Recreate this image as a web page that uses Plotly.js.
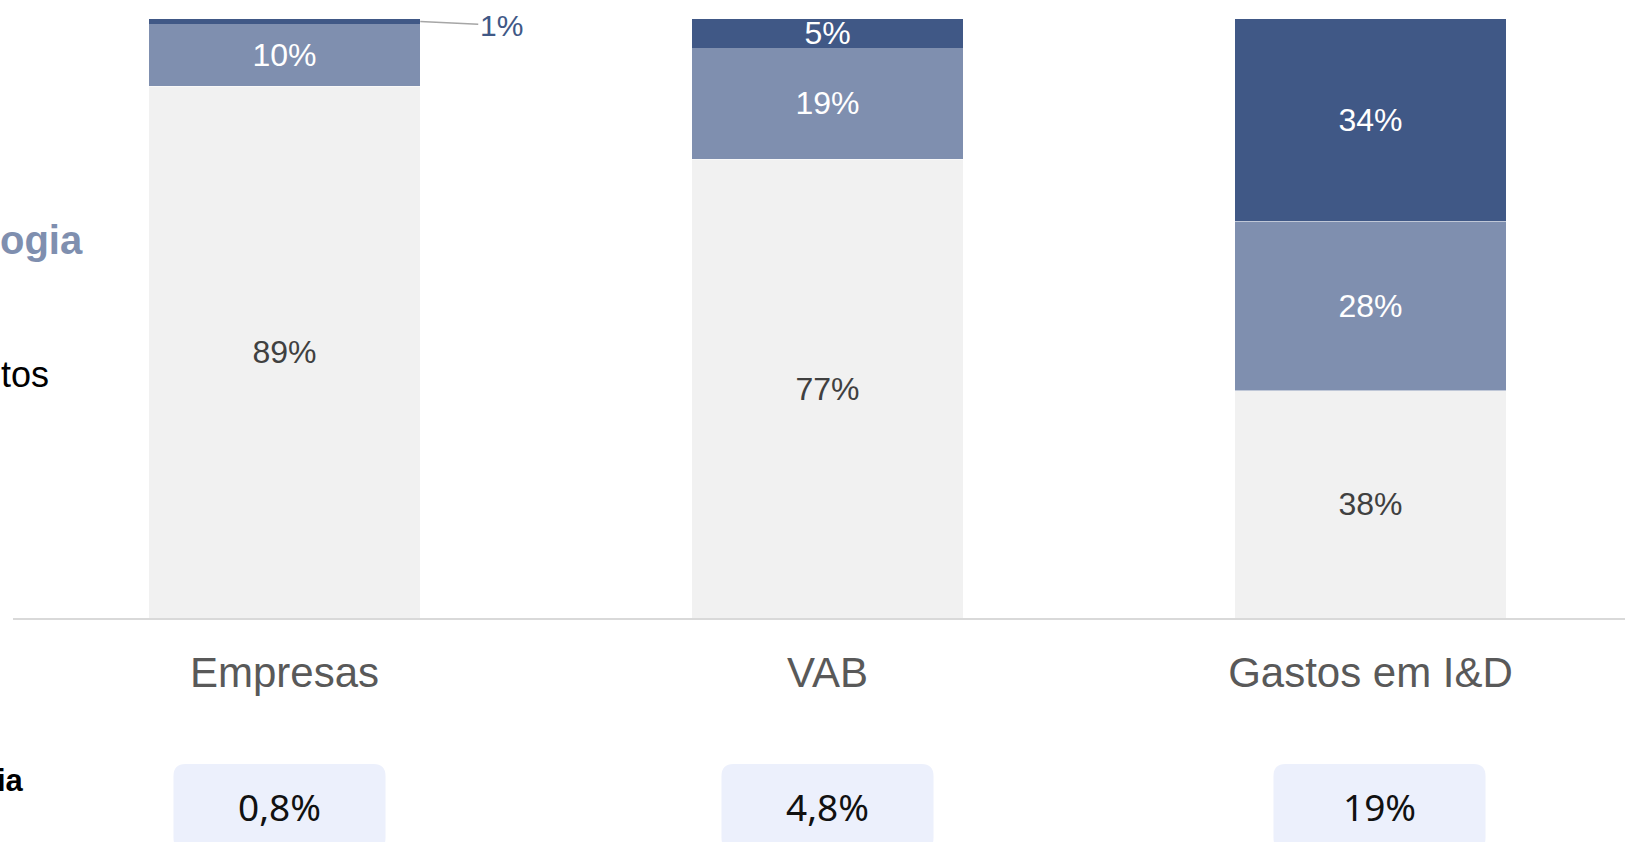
<!DOCTYPE html>
<html>
<head>
<meta charset="utf-8">
<script src="https://cdn.plot.ly/plotly-3.0.1.min.js"></script>
<style>
  html, body { margin: 0; padding: 0; background: #ffffff; overflow: hidden; }
  #chart { width: 1625px; height: 842px; }
</style>
</head>
<body>
<div id="chart"></div>
<script>
// ---- data (shares in %) ----
const categories = ['Empresas', 'VAB', 'Gastos em I&D'];
const lowTech = [88.8, 76.6, 37.9];
const midTech = [10.4, 18.6, 28.3];
const highTech = [0.8, 4.8, 33.8];
const intensity = ['0,8%', '4,8%', '19%'];
const sideLabels = ['ogia', 'tos', 'ia'];

const cLow = '#F1F1F1', cMid = '#7F8FAF', cHigh = '#405886';
const ARIAL = 'Liberation Sans, Arial, sans-serif';
const NOTO = 'Noto Sans, Liberation Sans, sans-serif';

const pct = v => Math.round(v) + '%';

const traces = [
  {
    type: 'bar', name: 'low', x: categories, y: lowTech,
    text: lowTech.map(pct), textposition: 'inside', insidetextanchor: 'middle',
    constraintext: 'none',
    textfont: { family: ARIAL, size: 32, color: '#404040' },
    marker: { color: cLow, line: { width: 0 } },
    width: 0.5, hoverinfo: 'skip'
  },
  {
    type: 'bar', name: 'mid', x: categories, y: midTech,
    text: midTech.map(pct), textposition: 'inside', insidetextanchor: 'middle',
    constraintext: 'none',
    textfont: { family: ARIAL, size: 32, color: '#ffffff' },
    marker: { color: cMid, line: { width: 1, color: 'rgba(255,255,255,0.5)' } },
    width: 0.5, hoverinfo: 'skip'
  },
  {
    type: 'bar', name: 'high', x: categories, y: highTech,
    text: highTech.map(pct),
    textposition: highTech.map(v => v < 3 ? 'none' : 'inside'),
    insidetextanchor: 'middle', constraintext: 'none',
    textfont: { family: ARIAL, size: 32, color: '#ffffff' },
    marker: { color: cHigh, line: { width: 0 } },
    width: 0.5, hoverinfo: 'skip'
  }
];

const annotations = [];
// small value label with leader line
highTech.forEach((v, i) => {
  if (v < 3) {
    annotations.push({
      xref: 'x', yref: 'y', x: i + 0.25, y: 100 - v / 2,
      text: pct(v), showarrow: true, arrowhead: 0, arrowwidth: 1.5,
      arrowcolor: '#a6a6a6', ax: 81, ay: 4, standoff: 0,
      font: { family: ARIAL, size: 30, color: cHigh }
    });
  }
});

// left side (cropped) labels
annotations.push({
  xref: 'paper', yref: 'paper', x: 0, y: 0.631, xshift: 72, xanchor: 'right', yanchor: 'middle',
  text: '<b>' + sideLabels[0] + '</b>', showarrow: false,
  font: { family: ARIAL, size: 40, color: cMid }
});
annotations.push({
  xref: 'paper', yref: 'paper', x: 0, y: 0.407, xshift: 38, xanchor: 'right', yanchor: 'middle',
  text: sideLabels[1], showarrow: false,
  font: { family: ARIAL, size: 36, color: '#000000' }
});
annotations.push({
  xref: 'paper', yref: 'paper', x: 0, y: -0.272, xshift: 13, xanchor: 'right', yanchor: 'middle',
  text: '<b>' + sideLabels[2] + '</b>', showarrow: false,
  font: { family: ARIAL, size: 31, color: '#000000' }
});

// intensity boxes
const shapes = [];
const boxShift = [-5, 0, 9]; // pixel offsets of the boxes from the bar centres
const w = 106, h = 43, r = 12;
const boxPath = dx => {
  const L = dx - w, R = dx + w;
  return `M ${L + r},${-h} L ${R - r},${-h} Q ${R},${-h} ${R},${-h + r} L ${R},${h - r} Q ${R},${h} ${R - r},${h} L ${L + r},${h} Q ${L},${h} ${L},${h - r} L ${L},${-h + r} Q ${L},${-h} ${L + r},${-h} Z`;
};
intensity.forEach((t, i) => {
  shapes.push({
    type: 'path', xref: 'x', yref: 'paper',
    xsizemode: 'pixel', ysizemode: 'pixel',
    xanchor: i, yanchor: -0.3155,
    path: boxPath(boxShift[i]), fillcolor: '#ECF0FC', line: { width: 0 }, layer: 'below'
  });
  annotations.push({
    xref: 'x', yref: 'paper', x: i, y: -0.314, yanchor: 'middle', xshift: boxShift[i],
    text: t, showarrow: false,
    font: { family: NOTO, size: 37, color: '#111111' }
  });
});

const layout = {
  width: 1625, height: 842,
  margin: { l: 13, r: 0, t: 19, b: 224 },
  paper_bgcolor: '#ffffff', plot_bgcolor: '#ffffff',
  barmode: 'stack', bargap: 0.5,
  showlegend: false,
  xaxis: {
    type: 'category', range: [-0.5, 2.4687],
    showline: true, linecolor: '#d9d9d9', linewidth: 2,
    showgrid: false, zeroline: false, ticks: '',
    tickfont: { family: ARIAL, size: 42, color: '#595959' },
    ticklabelstandoff: 17, fixedrange: true
  },
  yaxis: {
    range: [0, 100], visible: false, showgrid: false, zeroline: false, fixedrange: true
  },
  annotations: annotations,
  shapes: shapes,
  font: { family: ARIAL }
};

Plotly.newPlot('chart', traces, layout, { displayModeBar: false, staticPlot: true });
</script>
</body>
</html>
